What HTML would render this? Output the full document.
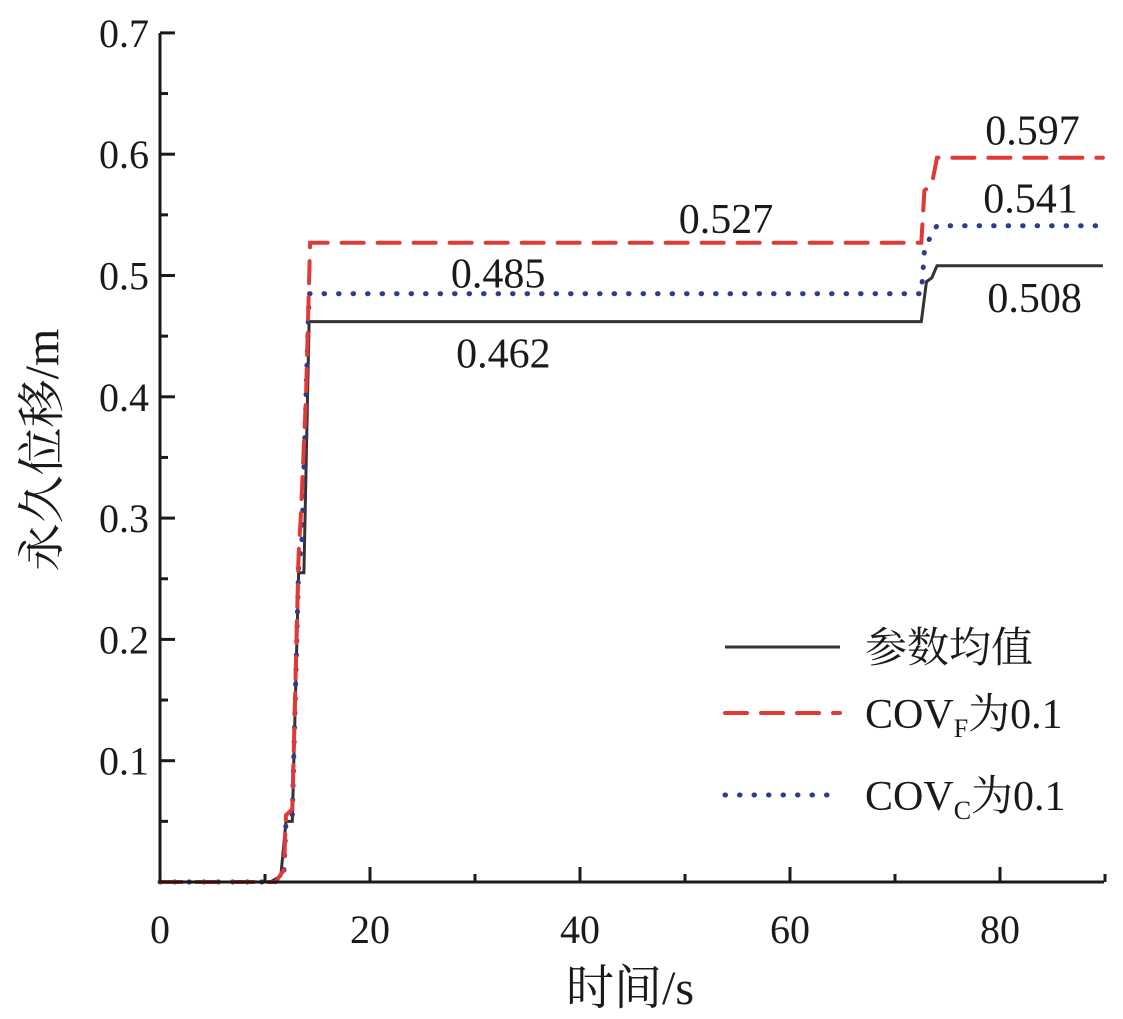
<!DOCTYPE html>
<html><head><meta charset="utf-8"><style>
body{margin:0;background:#fff;width:1123px;height:1014px;overflow:hidden}
svg text{font-family:"Liberation Serif","Noto Serif CJK SC",serif;fill:#1a1a1a}
</style></head><body>
<svg id="chart" width="1123" height="1014" viewBox="0 0 1123 1014"></svg>
<script>
const xTicks=[0,20,40,60,80];
const yTicks=[0.1,0.2,0.3,0.4,0.5,0.6,0.7];
const yTickLabels=["0.1","0.2","0.3","0.4","0.5","0.6","0.7"];
const meanT=[0,10.5,11.5,12.0,12.6,13.2,13.7,14.2,72.5,73.0,73.5,74.0,89.8];
const meanV=[0,0,0.005,0.05,0.05,0.255,0.255,0.462,0.462,0.495,0.498,0.508,0.508];
const covfT=[0,11.0,11.8,12.0,12.6,13.2,13.4,13.9,14.3,72.5,72.8,73.5,74.0,89.8];
const covfV=[0,0,0.01,0.055,0.06,0.27,0.30,0.40,0.527,0.527,0.57,0.575,0.597,0.597];
const covcT=[0,11.0,11.8,12.0,12.6,13.2,13.5,13.9,14.2,72.5,72.8,73.5,74.0,89.8];
const covcV=[0,0,0.008,0.05,0.055,0.26,0.28,0.40,0.485,0.485,0.52,0.535,0.541,0.541];
const annText=["0.462","0.485","0.527","0.508","0.541","0.597"];
const annT=[32.7,32.2,53.9,83.3,82.9,83.1];
const annV=[0.424,0.490,0.535,0.470,0.552,0.608];

const svg=document.getElementById('chart');
const NS='http://www.w3.org/2000/svg';
const X0=160,XS=10.5,Y0=882,YS=1213;
const sx=t=>X0+t*XS, sy=v=>Y0-v*YS;
function mk(tag,attrs){const e=document.createElementNS(NS,tag);for(const k in attrs)e.setAttribute(k,attrs[k]);svg.appendChild(e);return e;}

function series(T,V,color,dash,w,name){
  let d='';T.forEach((t,i)=>{d+=(i?'L':'M')+sx(t).toFixed(1)+','+sy(V[i]).toFixed(1);});
  const p=mk('path',{d:d,fill:'none',stroke:color,'stroke-width':w,'stroke-dasharray':dash,'stroke-linecap':dash?'round':'butt'});
  
  
}
series(meanT,meanV,'#333','',3,'series-mean');
series(covcT,covcV,'#2b3d8c','0.5 14',5,'series-cov-c');
series(covfT,covfV,'#e03a36','22 14',4,'series-cov-f');

const ax=mk('path',{d:`M${X0},33L${X0},${Y0}L1104,${Y0}`,fill:'none',stroke:'#1a1a1a','stroke-width':3});


xTicks.forEach(t=>{
  mk('line',{x1:sx(t),x2:sx(t),y1:Y0,y2:Y0-15,stroke:'#1a1a1a','stroke-width':3});
  mk('line',{x1:sx(t+10),x2:sx(t+10),y1:Y0,y2:Y0-8,stroke:'#1a1a1a','stroke-width':3});
  const tx=mk('text',{x:sx(t),y:943,'text-anchor':'middle','font-size':40});
  tx.textContent=String(t);
  
  
});
yTicks.forEach((v,i)=>{
  mk('line',{x1:X0,x2:X0+15,y1:sy(v),y2:sy(v),stroke:'#1a1a1a','stroke-width':3});
  mk('line',{x1:X0,x2:X0+8,y1:sy(v-0.05),y2:sy(v-0.05),stroke:'#1a1a1a','stroke-width':3});
  const tx=mk('text',{x:149,y:sy(v)+14,'text-anchor':'end','font-size':40});
  tx.textContent=yTickLabels[i];
  
  
});
annText.forEach((s,i)=>{
  const tx=mk('text',{x:sx(annT[i]),y:sy(annV[i]),'text-anchor':'middle','font-size':42});
  tx.textContent=s;
  
  
});
const xt=mk('text',{x:630,y:1004,'text-anchor':'middle','font-size':48});
xt.textContent='时间/s';


const yt=mk('text',{x:0,y:0,'text-anchor':'middle','font-size':48,transform:'translate(58,450) rotate(-90)'});
yt.textContent='永久位移/m';



const leg=[['#333','',3,'参数均值',647,''],['#e03a36','22 14',4,'COV',713,'F'],['#2b3d8c','0.5 14',5,'COV',795,'C']];
leg.forEach(l=>{
  const ln=mk('line',{x1:725,x2:840,y1:l[4],y2:l[4],stroke:l[0],'stroke-width':l[2],'stroke-dasharray':l[1],'stroke-linecap':l[1]?'round':'butt'});
  
  
  const tx=mk('text',{x:865,y:l[4]+15,'font-size':42});
  
  
  if(l[5]){tx.innerHTML=`COV<tspan font-size="26" dy="9">${l[5]}</tspan><tspan dy="-9">为0.1</tspan>`;}
  else tx.textContent=l[3];
});
</script>
</body></html>
